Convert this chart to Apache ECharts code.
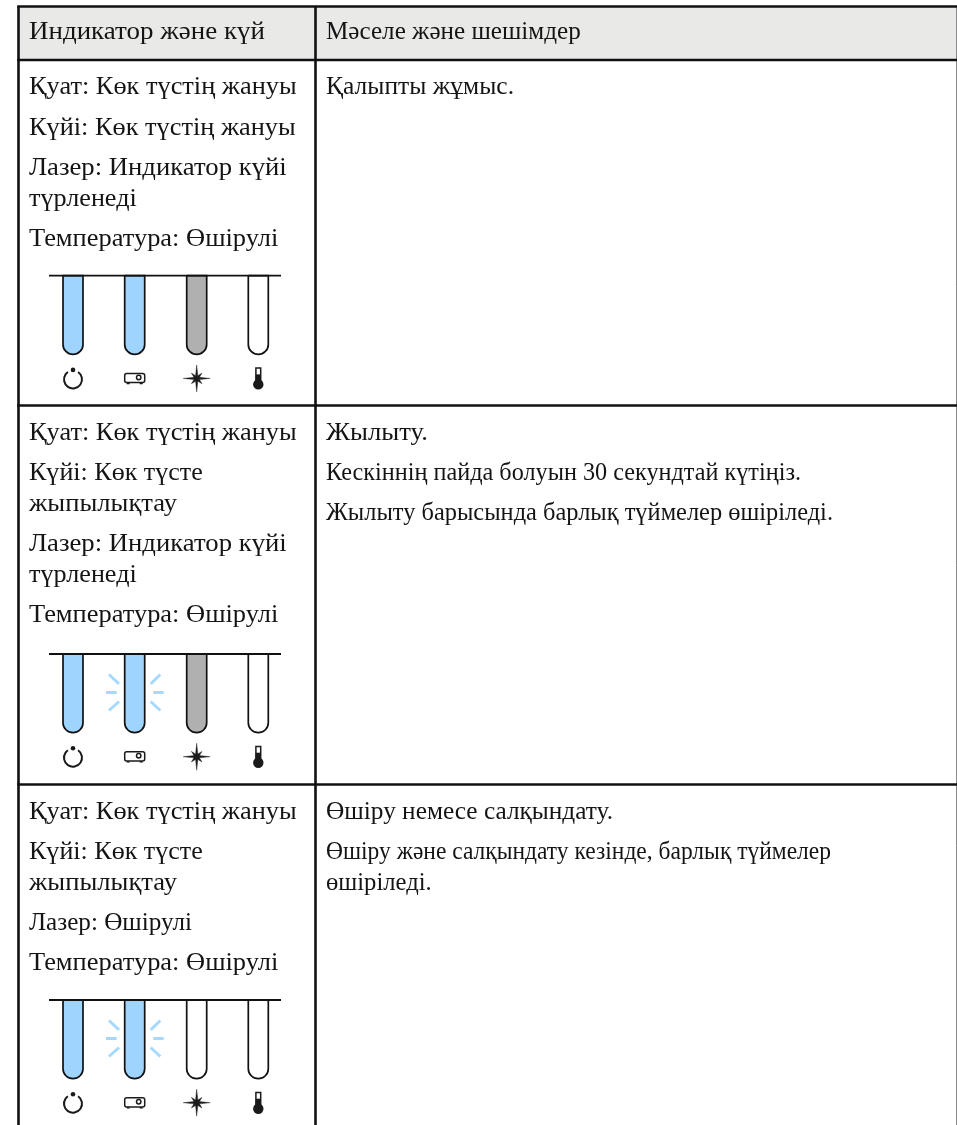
<!DOCTYPE html>
<html><head><meta charset="utf-8">
<style>html,body{margin:0;padding:0;background:#fff}#c{width:957px;height:1125px}</style>
<script src="https://cdn.jsdelivr.net/npm/echarts@6/dist/echarts.min.js"></script>
</head><body><div id="c"></div>
<script>
// ---- data ----
const headers = ['Индикатор және күй', 'Мәселе және шешімдер'];
const leftText = [
  ['Қуат: Көк түстің жануы', 'Күйі: Көк түстің жануы', 'Лазер: Индикатор күйі|түрленеді', 'Температура: Өшірулі'],
  ['Қуат: Көк түстің жануы', 'Күйі: Көк түсте|жыпылықтау', 'Лазер: Индикатор күйі|түрленеді', 'Температура: Өшірулі'],
  ['Қуат: Көк түстің жануы', 'Күйі: Көк түсте|жыпылықтау', 'Лазер: Өшірулі', 'Температура: Өшірулі']
];
const rightText = [
  ['Қалыпты жұмыс.'],
  ['Жылыту.', 'Кескіннің пайда болуын 30 секундтай күтіңіз.', 'Жылыту барысында барлық түймелер өшіріледі.'],
  ['Өшіру немесе салқындату.', 'Өшіру және салқындату кезінде, барлық түймелер|өшіріледі.']
];
// lamp states per row: power, status, laser, temperature
const lampStates = [
  ['blue', 'blue', 'grey', 'off'],
  ['blue', 'blink', 'grey', 'off'],
  ['blue', 'blink', 'off', 'off']
];
const lampIcons = ['power', 'projector', 'star', 'thermo'];

// ---- layout ----
const W = 957, H = 1125;
const ink = '#111', lineW = 2.6;
const colX = [18.5, 315.5], rowY = [6.5, 60, 405.5, 784.5];
const textX = [29, 326], firstBase = [93.7, 439, 818], headBase = 38;
const paraStep = 40.2, wrapStep = 31;
const lampTop = [275.7, 654, 1000], lampBottomOff = 78.7, iconOff = 102.7;
const lampX = [73, 134.7, 196.7, 258.3], lampR = 10;
const fills = {blue: '#9fd4ff', blink: '#9fd4ff', grey: '#b0b0b0', off: '#ffffff'};
const fontPx = 24.5, font = fontPx + 'px "Liberation Serif", serif', baseToMiddle = 5.8;
// right edge of each text line in the page, so its run length matches
const lineEnds = {
  'Индикатор және күй': 265, 'Мәселе және шешімдер': 580.7,
  'Қуат: Көк түстің жануы': 296.7, 'Күйі: Көк түстің жануы': 295.7,
  'Лазер: Индикатор күйі': 286.7, 'түрленеді': 136.7, 'Температура: Өшірулі': 278.3,
  'Күйі: Көк түсте': 202.7, 'жыпылықтау': 177, 'Лазер: Өшірулі': 192,
  'Қалыпты жұмыс.': 514, 'Жылыту.': 428, 'Кескіннің пайда болуын 30 секундтай күтіңіз.': 801,
  'Жылыту барысында барлық түймелер өшіріледі.': 833, 'Өшіру немесе салқындату.': 613,
  'Өшіру және салқындату кезінде, барлық түймелер': 831, 'өшіріледі.': 431.7
};
const mctx = document.createElement('canvas').getContext('2d');
mctx.font = font;

function textItems(paras, x, base) {
  const out = []; let y = base;
  paras.forEach(p => {
    p.split('|').forEach((l, j) => {
      if (j) y += wrapStep;
      out.push({t: l, x, y});
    });
    y += paraStep;
  });
  return out;
}

function renderAll(params, api) {
  const P = (x, y) => api.coord([x, y]);
  const kids = [];
  const line = (x1, y1, x2, y2, w, c) => {
    const a = P(x1, y1), b = P(x2, y2);
    kids.push({type: 'line', shape: {x1: a[0], y1: a[1], x2: b[0], y2: b[1]}, style: {stroke: c || ink, lineWidth: w || lineW, lineCap: 'butt'}});
  };
  const text = (t, x, y) => {
    const a = P(x, y - baseToMiddle);
    const sx = lineEnds[t] ? (lineEnds[t] - x) / mctx.measureText(t).width : 1;
    kids.push({type: 'text', x: a[0], y: a[1], scaleX: sx, style: {text: t, font, fill: '#141414', textAlign: 'left', verticalAlign: 'middle'}});
  };
  // header band
  const a0 = P(colX[0], rowY[0]), a1 = P(W, rowY[1]);
  kids.push({type: 'rect', shape: {x: a0[0], y: a0[1], width: a1[0] - a0[0], height: a1[1] - a0[1]}, style: {fill: '#e9e9e8'}});
  line(956.5, rowY[0], 956.5, H, 1, '#8a8a8a');
  rowY.forEach(y => line(colX[0] - 1.3, y, W, y));
  colX.forEach(x => line(x, rowY[0], x, H));
  headers.forEach((h, i) => text(h, textX[i], headBase));
  leftText.forEach((p, r) => textItems(p, textX[0], firstBase[r]).forEach(o => text(o.t, o.x, o.y)));
  rightText.forEach((p, r) => textItems(p, textX[1], firstBase[r]).forEach(o => text(o.t, o.x, o.y)));
  // lamps
  lampStates.forEach((row, r) => {
    const top = lampTop[r];
    row.forEach((s, i) => {
      const cx = lampX[i], p = P(cx - lampR, top);
      kids.push({type: 'rect', shape: {x: p[0], y: p[1], width: lampR * 2, height: lampBottomOff, r: [0, 0, lampR, lampR]}, style: {fill: fills[s], stroke: ink, lineWidth: 1.7}});
      if (s === 'blink') {
        const ry = top + 38.5, c = '#a6d9ff';
        [[-28.7, 0, -18, 0], [18.6, 0, 29, 0], [-25.7, -18, -15.7, -8.7], [25.6, -18, 16, -8.7], [-25.7, 18, -15.7, 9], [25.6, 18, 16, 9]]
          .forEach(d => line(cx + d[0], ry + d[1], cx + d[2], ry + d[3], 3, c));
      }
      drawIcon(lampIcons[i], cx, top + iconOff);
    });
    line(lampX[0] - 24, top, lampX[3] + 22.7, top, 1.8);
  });
  function drawIcon(name, cx, cy) {
    const c = P(cx, cy), x = c[0], y = c[1], k = '#1a1a1a';
    if (name === 'power') {
      kids.push({type: 'arc', shape: {cx: x, cy: y + 1, r: 9, startAngle: -Math.PI / 2 + 0.6, endAngle: -Math.PI / 2 - 0.6 + 2 * Math.PI, clockwise: true}, style: {stroke: k, fill: null, lineWidth: 2}});
      kids.push({type: 'circle', shape: {cx: x, cy: y - 8.5, r: 2.3}, style: {fill: k}});
    } else if (name === 'projector') {
      kids.push({type: 'rect', shape: {x: x - 10, y: y - 5, width: 20, height: 9.2, r: 2}, style: {fill: '#fff', stroke: k, lineWidth: 1.5}});
      kids.push({type: 'circle', shape: {cx: x + 4, cy: y - 0.9, r: 2.2}, style: {fill: '#fff', stroke: k, lineWidth: 1.5}});
      kids.push({type: 'line', shape: {x1: x - 8, y1: y + 5.2, x2: x - 5, y2: y + 5.2}, style: {stroke: k, lineWidth: 1.3}});
      kids.push({type: 'line', shape: {x1: x + 5, y1: y + 5.2, x2: x + 8, y2: y + 5.2}, style: {stroke: k, lineWidth: 1.3}});
    } else if (name === 'star') {
      const pts = [];
      for (let t = 0; t < 16; t++) {
        const ang = t * Math.PI / 8 - Math.PI / 2;
        const rad = t % 4 === 0 ? 13.5 : t % 2 === 0 ? 7.5 : 3;
        pts.push([x + rad * Math.cos(ang), y + rad * Math.sin(ang)]);
      }
      kids.push({type: 'polygon', shape: {points: pts}, style: {fill: k, stroke: k, lineWidth: 0.4}});
    } else {
      kids.push({type: 'rect', shape: {x: x - 2.4, y: y - 10.3, width: 4.8, height: 14}, style: {fill: '#fff', stroke: k, lineWidth: 1.5}});
      kids.push({type: 'rect', shape: {x: x - 2.6, y: y - 4, width: 5.2, height: 8}, style: {fill: k}});
      kids.push({type: 'circle', shape: {cx: x, cy: y + 6, r: 5.2}, style: {fill: k}});
    }
  }
  return {type: 'group', children: kids};
}

const chart = echarts.init(document.getElementById('c'), null, {renderer: 'canvas'});
chart.setOption({
  animation: false,
  backgroundColor: '#fff',
  grid: {left: 0, right: 0, top: 0, bottom: 0},
  xAxis: {type: 'value', min: 0, max: W, show: false},
  yAxis: {type: 'value', min: 0, max: H, inverse: true, show: false},
  series: [{type: 'custom', coordinateSystem: 'cartesian2d', silent: true, clip: false, data: [[0, 0]], renderItem: renderAll}]
});
</script></body></html>
